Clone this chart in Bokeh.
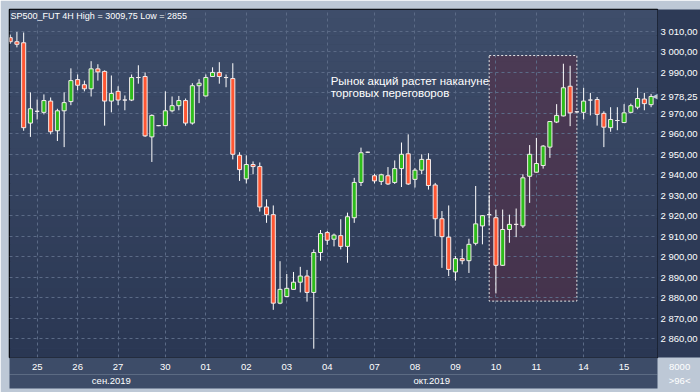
from bokeh.plotting import figure
from bokeh.models import Range1d, FixedTicker, LinearAxis, Label, ColumnDataSource
from bokeh.embed import file_html
from bokeh.resources import INLINE

# ---- data (SP500_FUT, 4H bars) ----
opens = [3007, 3005, 3004.5, 2965.25, 2971, 2970.5, 2976, 2961.5, 2971.25, 2975.75,
         2986.5, 2984, 2982, 2991.75, 2990.5, 2976, 2980.75, 2976.5, 2976.5, 2987.5,
         2988, 2958.5, 2964, 2964, 2971.25, 2973.75, 2976.25, 2965.25, 2983.5, 2978.5,
         2988, 2990, 2987.5, 2987, 2949.5, 2938, 2945, 2944, 2924.25, 2920.5,
         2877.25, 2880.5, 2884, 2887.5, 2890.5, 2882.5, 2902, 2911.75, 2908.5, 2910.25,
         2905, 2919, 2936.25, 2951, 2939.5, 2936.75, 2939.5, 2936.25, 2943, 2950.25,
         2937.75, 2942.25, 2947.5, 2935, 2918.5, 2909.5, 2892.5, 2899, 2898, 2906.5,
         2915, 2920.5, 2919, 2895.75, 2913.25, 2915.75, 2915, 2939.25, 2941.25, 2944.5,
         2953.5, 2965.75, 2968.75, 2983.25, 2970.75, 2970.5, 2976.5, 2976.75, 2970, 2963,
         2966.5, 2965.5, 2970.5, 2973, 2977, 2974.25]
highs = [3008.5, 3009.75, 3009.5, 2980.25, 2976.75, 2979.25, 2977.75, 2972.25, 2980.25, 2992,
         2989, 2986, 2995.5, 2994, 2991, 2988.5, 2983.25, 2978.75, 2989, 2993.5,
         2990, 2969.5, 2964.25, 2980.75, 2978.25, 2978.5, 2977.25, 2984.75, 2986.75, 2989,
         2992.5, 2995, 2989, 2994.5, 2951, 2949.5, 2946.5, 2946, 2928, 2925,
         2897.75, 2891.5, 2892.5, 2895, 2893.5, 2903.5, 2913, 2912.5, 2911.25, 2918.25,
         2921.5, 2938.5, 2953.25, 2951.25, 2940.5, 2940.5, 2943.75, 2947, 2955.75, 2959.75,
         2943.25, 2950, 2950.5, 2936, 2922.25, 2925, 2900.25, 2903.75, 2908.75, 2934.5,
         2920.25, 2930, 2923, 2923, 2920.5, 2923.5, 2940.25, 2954.5, 2958, 2954.5,
         2966.25, 2974.5, 2994.25, 2993.25, 2971, 2982.5, 2980, 2978, 2971, 2973,
         2973, 2974.5, 2974.75, 2982.5, 2980, 2979.5]
lows = [3004, 3002.25, 2961.5, 2958.5, 2967, 2969.5, 2959.75, 2956.5, 2953.5, 2974,
        2981.25, 2980.75, 2978.25, 2986, 2964, 2970.5, 2974, 2971.5, 2976, 2984.5,
        2958.5, 2946.25, 2963.75, 2963.75, 2970.5, 2971.5, 2964, 2964.5, 2975, 2978.25,
        2987.75, 2984.5, 2982.75, 2947.5, 2937, 2935.75, 2940.25, 2922, 2916.5, 2874,
        2876.75, 2880.25, 2884, 2882.5, 2878, 2855, 2898, 2905.75, 2905, 2903.5,
        2897, 2916.5, 2934.5, 2950.75, 2935.75, 2935, 2935, 2935.5, 2934, 2935,
        2933.75, 2940.25, 2932.75, 2910, 2894.5, 2890.5, 2888.25, 2896.25, 2892, 2905.5,
        2906, 2915.5, 2882, 2895.5, 2906.75, 2909.5, 2914, 2926.25, 2941, 2943,
        2948.25, 2965.25, 2968.5, 2963.75, 2970.5, 2967, 2969, 2964, 2953.5, 2961,
        2961.75, 2965.5, 2970, 2972, 2971.5, 2973]
closes = [3005, 3003.75, 2963, 2972.25, 2971, 2976.25, 2961, 2971.25, 2975.25, 2986,
          2983.75, 2982, 2991.75, 2990.25, 2976, 2979.75, 2976.5, 2976.5, 2987.5, 2987.5,
          2959, 2969, 2964, 2971.25, 2973.75, 2976.25, 2965.25, 2983.5, 2984.75, 2987.5,
          2990, 2988, 2987.5, 2950, 2942.5, 2945, 2944, 2924.25, 2920.5, 2877.25,
          2884, 2884.5, 2887.5, 2890.5, 2882.5, 2902, 2911.25, 2908, 2910.5, 2905,
          2919.5, 2936.25, 2950.75, 2951, 2937, 2940, 2935.5, 2943, 2950, 2935.5,
          2942.25, 2947.5, 2934.75, 2918.5, 2909.75, 2893.75, 2899, 2898, 2906, 2916,
          2920, 2920.5, 2895.75, 2913.25, 2915.75, 2915.75, 2938.5, 2950, 2945.5, 2954,
          2966, 2969, 2982.5, 2970.25, 2970.75, 2976, 2976.5, 2969.5, 2963.25, 2967,
          2966.5, 2970.25, 2973.75, 2977.25, 2974.75, 2978.25]

day_ticks = [4, 10, 16, 23, 29, 35, 41, 47, 54, 60, 66, 72, 78, 85, 91]
day_labels = ["25", "26", "27", "30", "01", "02", "03", "04", "07", "08", "09", "10", "11", "14", "15"]
month_ticks = [15, 62.5]
month_labels = ["сен.2019", "окт.2019"]
price_ticks = list(range(2860, 3020, 10))
symbol = "SP500_FUT 4H"
note = "Рынок акций растет накануне\nторговых переговоров"
volume_text = "8000"
highlight_bars = (71, 84)
highlight_prices = (2878.25, 2998.25)

# ---- helpers ----
def fmt_price(v):
    s = f"{v:,.2f}"
    return s.replace(",", " ").replace(".", ",")

def fmt_short(v):
    s = f"{v:.2f}".rstrip("0").rstrip(".")
    return s.replace(".", ",")

n = len(closes)
xs = list(range(n))
last = closes[-1]
X0, X1 = -0.1, 95.95
Y0, Y1 = 2850.7, 3020.75
EDGE = 95.9                    # tick at the right edge, used for the corner texts
PAD = "\u00a0" * 17            # pushes the corner texts past the chart edge

p = figure(width=700, height=392, output_backend="svg", toolbar_location=None,
           x_range=Range1d(X0, X1), y_range=Range1d(Y0, Y1),
           y_axis_location="right",
           min_border_left=9, min_border_top=9, min_border_right=43,
           min_border_bottom=35)
p.border_fill_color = "#bdc8d6"
p.background_fill_color = "#34425e"
p.outline_line_color = "#000000"
p.outline_line_width = 1.5

# gradient background of the chart area
nb = 40
top_c = (62, 77, 106)
bot_c = (42, 55, 83)
bb, bt, bc = [], [], []
for k in range(nb):
    f = k / (nb - 1)
    bb.append(Y0 + (Y1 - Y0) * k / nb)
    bt.append(Y0 + (Y1 - Y0) * (k + 1) / nb + 0.05)
    r = round(bot_c[0] + (top_c[0] - bot_c[0]) * f)
    g = round(bot_c[1] + (top_c[1] - bot_c[1]) * f)
    b = round(bot_c[2] + (top_c[2] - bot_c[2]) * f)
    bc.append(f"#{r:02x}{g:02x}{b:02x}")
p.quad(left=[X0] * nb, right=[X1] * nb, bottom=bb, top=bt, fill_color=bc,
       line_color=None, level="image")

# highlight box
p.quad(left=[highlight_bars[0]], right=[highlight_bars[1]],
       bottom=[highlight_prices[0]], top=[highlight_prices[1]],
       fill_color="#5a2d46", fill_alpha=0.55, line_color="#e8e8e8",
       line_dash="2 2", line_width=1, level="image")

# axes
day_axis = p.xaxis[0]
day_axis.ticker = FixedTicker(ticks=day_ticks + [EDGE])
day_overrides = {t: l for t, l in zip(day_ticks, day_labels)}
day_overrides[EDGE] = PAD + volume_text
day_axis.major_label_overrides = day_overrides

ytick_list = [t for t in price_ticks if abs(t - last) > 4] + [last]
p.yaxis.ticker = FixedTicker(ticks=ytick_list)
p.yaxis.major_label_overrides = {t: fmt_price(t) for t in ytick_list}

month_overrides = {t: l for t, l in zip(month_ticks, month_labels)}
month_overrides[EDGE] = PAD + f">{n}<"
month_axis = LinearAxis(ticker=FixedTicker(ticks=month_ticks + [EDGE]),
                        major_label_overrides=month_overrides)
p.add_layout(month_axis, "below")

for ax in (day_axis, p.yaxis[0], month_axis):
    ax.axis_line_color = None
    ax.major_tick_line_color = None
    ax.minor_tick_line_color = None
    ax.major_tick_out = 0
    ax.major_tick_in = 0
    ax.major_label_text_color = "#ffffff"
    ax.major_label_text_font = "Liberation Sans"
    ax.major_label_text_font_size = "9.5px"
day_axis.major_label_standoff = 3
month_axis.major_label_standoff = 0
p.yaxis[0].major_label_standoff = 3

p.yaxis[0].background_fill_color = "#2d3a56"
day_axis.background_fill_color = "#3d4c68"
month_axis.background_fill_color = "#3d4c68"

p.ygrid[0].ticker = FixedTicker(ticks=price_ticks)
p.xgrid[0].ticker = FixedTicker(ticks=day_ticks)
for gr in (p.xgrid[0], p.ygrid[0]):
    gr.grid_line_color = "#5b6a86"
    gr.grid_line_dash = "3 3"
    gr.grid_line_width = 1

# candles
up_c, dn_c = "#2ebd1b", "#ff5733"
colors = [up_c if c > o else (dn_c if c < o else "#ffffff") for o, c in zip(opens, closes)]
src = ColumnDataSource(dict(
    x=xs, h=highs, l=lows,
    top=[max(o, c) for o, c in zip(opens, closes)],
    bottom=[min(o, c) for o, c in zip(opens, closes)],
    color=colors))
p.segment(x0="x", y0="h", x1="x", y1="l", line_color="#ffffff", line_width=1, source=src)
p.vbar(x="x", width=0.6, top="top", bottom="bottom", fill_color="color",
       line_color="#f2ebeb", line_width=1, source=src)

# title (inside chart, top-left)
title = f"{symbol} High = {fmt_short(max(highs))} Low = {fmt_short(min(lows))}"
p.add_layout(Label(x=1, y=342, x_units="screen", y_units="screen", text=title,
                   text_color="#ffffff", text_font="Liberation Sans", text_font_size="9px",
                   text_baseline="middle", text_align="left"))

# note text
p.add_layout(Label(x=47.5, y=2988.6, text=note, text_color="#ffffff",
                   text_font="Liberation Sans", text_font_size="11.5px",
                   text_baseline="top", text_line_height=0.95))

# last price marker at the chart edge
p.add_layout(Label(x=642, y=last, x_units="screen", text="◀", text_color="#c9cdd3",
                   text_font_size="9px", text_baseline="middle", text_align="left"))

open("out.html", "w").write(file_html(p, INLINE))
